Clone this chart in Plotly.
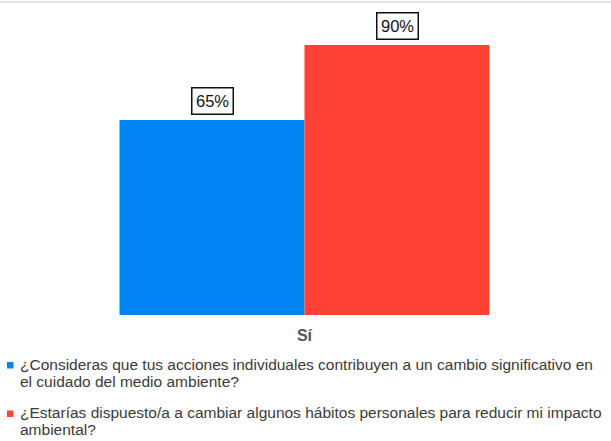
import plotly.graph_objects as go

# Survey answers ("Sí" share per question)
categories = ["Sí"]
question_lines = [
    ["¿Consideras que tus acciones individuales contribuyen a un cambio significativo en",
     "el cuidado del medio ambiente?"],
    ["¿Estarías dispuesto/a a cambiar algunos hábitos personales para reducir mi impacto",
     "ambiental?"],
]
values_q1 = [65]
values_q2 = [90]
series_values = [values_q1, values_q2]
colors = ["#0185F5", "#FF4233"]

W, H = 611, 441
ML, MR, MT, MB = 49, 51, 15, 126
PW, PH = W - ML - MR, H - MT - MB


def px_x(p):
    return (p - ML) / PW


def px_y(p):
    return 1 - (p - MT) / PH


fig = go.Figure()
for lines, vals, col in zip(question_lines, series_values, colors):
    fig.add_trace(go.Bar(
        x=categories, y=vals, name=" ".join(lines), marker_color=col,
        marker_line_width=0, showlegend=False,
    ))

# value boxes above each bar
offsets = [-92.5, 92.5]
for vals, dx in zip(series_values, offsets):
    fig.add_annotation(
        x=categories[0], y=vals[0], xref="x", yref="y",
        text=f"{vals[0]}%", showarrow=False, xshift=dx, yshift=5,
        yanchor="bottom", font=dict(family="Liberation Sans", size=16.5, color="#111"),
        bordercolor="#111", borderwidth=1.5, borderpad=3.5, bgcolor="white",
    )

# legend drawn beneath the chart, one text row per line
LEG_SIZE = 15.5
legend_baselines = [[369.5, 386.5], [418, 435]]
for lines, col, bases in zip(question_lines, colors, legend_baselines):
    fig.add_shape(type="rect", xref="paper", yref="paper",
                  x0=px_x(7), x1=px_x(13.5), y0=px_y(bases[0] - 7.5), y1=px_y(bases[0] - 1),
                  fillcolor=col, line_width=0)
    for line, base in zip(lines, bases):
        fig.add_annotation(
            x=px_x(18), y=px_y(base - 0.35 * LEG_SIZE), xref="paper", yref="paper",
            text=line, showarrow=False, xanchor="left", yanchor="middle", align="left",
            font=dict(family="Liberation Sans", size=LEG_SIZE, color="#3a3a3a"),
        )

# thin frame line along the top edge
fig.add_shape(type="line", xref="paper", yref="paper",
              x0=px_x(0), x1=px_x(W), y0=px_y(2), y1=px_y(2),
              line=dict(color="#e3e3e3", width=2))

fig.update_layout(
    width=W, height=H,
    margin=dict(l=ML, r=MR, t=MT, b=MB),
    paper_bgcolor="white", plot_bgcolor="white",
    barmode="group", bargap=0.276, bargroupgap=0,
    xaxis=dict(showgrid=False, showline=False, zeroline=False,
               ticks="", ticklabelstandoff=9,
               tickfont=dict(family="Liberation Sans", size=16, color="#555555", weight="bold")),
    yaxis=dict(range=[0, 100], visible=False),
)

fig.write_html("out.html")
